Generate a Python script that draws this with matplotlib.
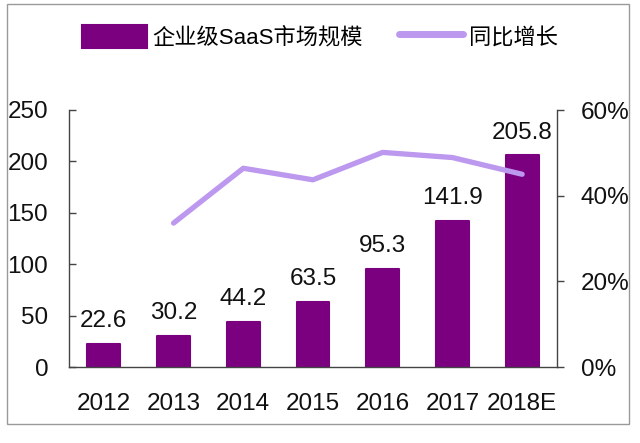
import matplotlib
matplotlib.use("Agg")
import matplotlib.pyplot as plt
from matplotlib.patches import Rectangle

years = ["2012", "2013", "2014", "2015", "2016", "2017", "2018E"]
market_size = [22.6, 30.2, 44.2, 63.5, 95.3, 141.9, 205.8]
growth_years = ["2013", "2014", "2015", "2016", "2017", "2018E"]
growth_pct = [33.6, 46.4, 43.7, 50.1, 48.9, 45.0]

bar_label = "企业级SaaS市场规模"
line_label = "同比增长"

plt.rcParams['font.family'] = ['Liberation Sans', 'Noto Sans CJK SC', 'DejaVu Sans']

BAR_COLOR = "#7A0080"
LINE_COLOR = "#BC98EE"
AXIS_COLOR = "#444444"
FS = 17.5

fig = plt.figure(figsize=(6.4, 4.43), dpi=100)
fig.patch.set_facecolor("white")
fig.add_artist(Rectangle((7/640, 1-424/443), 622/640, 420/443, transform=fig.transFigure,
                         fill=False, edgecolor="#9a9a9a", linewidth=1.0))

ax = fig.add_axes([69/640, 1-367/443, 488/640, 257/443])
x = list(range(len(years)))
bars = ax.bar(x, market_size, width=0.47, color=BAR_COLOR, edgecolor=BAR_COLOR,
              linewidth=1.5, joinstyle='round', label=bar_label, zorder=2)
for xi, v in zip(x, market_size):
    ax.annotate(f"{v:.1f}", (xi, v), xytext=(0, 12), textcoords="offset points",
                ha="center", va="baseline", fontsize=FS, color="#111111")

ax.set_xlim(-0.5, len(years) - 0.5)
ax.set_ylim(0, 250)
ax.set_yticks([0, 50, 100, 150, 200, 250])
ax.set_xticks(x)
ax.set_xticklabels(years)
ax.tick_params(axis='y', direction='in', length=5, width=1, color=AXIS_COLOR,
               labelsize=FS, pad=15, labelcolor="#111111")
ax.tick_params(axis='x', length=0, labelsize=FS, pad=19, labelcolor="#111111")
for s in ['top', 'right']:
    ax.spines[s].set_visible(False)
for s in ['left', 'bottom']:
    ax.spines[s].set_color(AXIS_COLOR)
    ax.spines[s].set_linewidth(1.0)
ax.patch.set_alpha(0)

ax2 = ax.twinx()
gx = [years.index(y) for y in growth_years]
line, = ax2.plot(gx, growth_pct, color=LINE_COLOR, linewidth=3.8,
                 solid_capstyle='round', solid_joinstyle='round', label=line_label, zorder=3)
ax2.set_ylim(0, 60)
ax2.set_yticks([0, 20, 40, 60])
ax2.set_yticklabels(["0%", "20%", "40%", "60%"])
ax2.tick_params(axis='y', direction='out', length=5, width=1, color=AXIS_COLOR,
                labelsize=FS, pad=12, labelcolor="#111111")
for s in ['top', 'left', 'bottom']:
    ax2.spines[s].set_visible(False)
ax2.spines['right'].set_color(AXIS_COLOR)
ax2.spines['right'].set_linewidth(1.0)

leg = fig.legend([bars, line], [bar_label, line_label], loc='center',
                 bbox_to_anchor=(320/640, 1-37/443), ncol=2, frameon=False,
                 fontsize=16, handlelength=2.9, handleheight=1.2, columnspacing=1.6,
                 handletextpad=0.25)
for h in leg.legend_handles:
    if h.__class__.__name__ == 'Line2D':
        h.set_linewidth(5)

fig.savefig("out.png", dpi=100)
